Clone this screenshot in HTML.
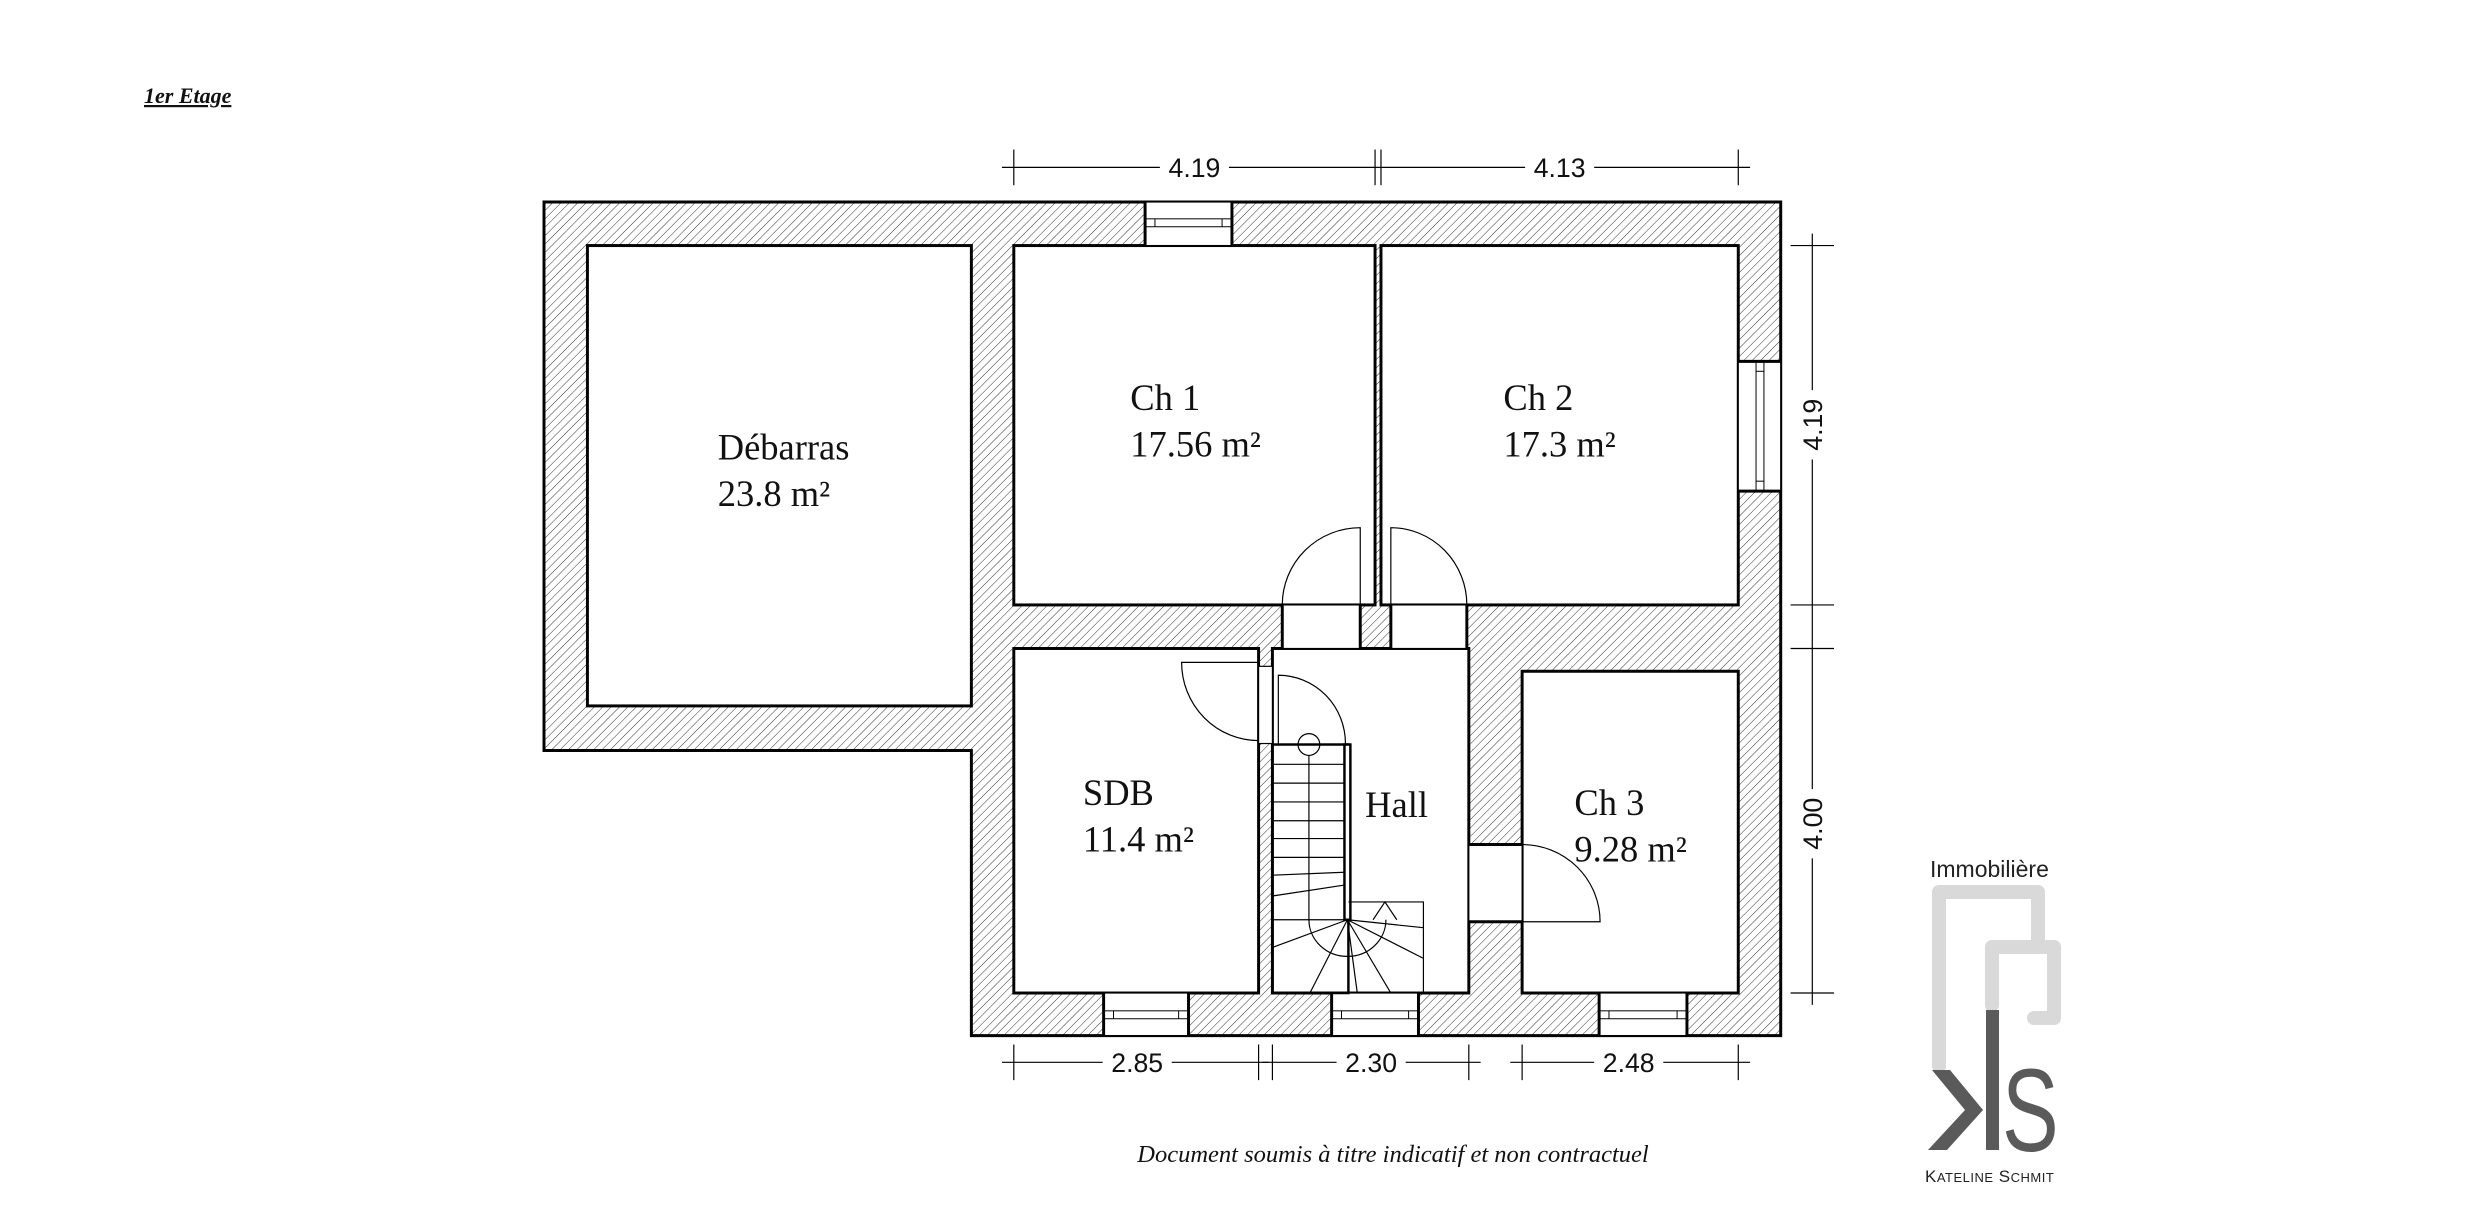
<!DOCTYPE html>
<html><head><meta charset="utf-8"><style>
html,body{margin:0;padding:0;background:#fff;}
svg{display:block;}
.rl{font-family:"Liberation Serif",serif;font-size:37px;fill:#111;}
.dm{font-family:"Liberation Sans",sans-serif;font-size:27px;fill:#111;}
</style></head><body>
<svg width="2479" height="1230" viewBox="0 0 2479 1230" xmlns="http://www.w3.org/2000/svg">
<defs>
<pattern id="h" width="6" height="6" patternUnits="userSpaceOnUse" patternTransform="rotate(45)">
<line x1="0" y1="0" x2="0" y2="6" stroke="#333" stroke-width="1"/>
</pattern>
</defs>
<rect width="2479" height="1230" fill="#fff"/>

<text x="144" y="103" font-family="Liberation Serif,serif" font-size="22" font-weight="bold" font-style="italic" text-decoration="underline" fill="#111">1er Etage</text>

<g transform="translate(544,202) scale(0.987,0.99) translate(-544,-202)">
<polygon points="544,202 1797,202 1797,1044 977,1044 977,756 544,756" fill="url(#h)" stroke="#000" stroke-width="3"/>

<g fill="#fff" stroke="#000" stroke-width="3">
<rect x="588" y="246" width="389" height="465"/>
<rect x="1020" y="246" width="366" height="363"/>
<rect x="1392" y="246" width="362" height="363"/>
<rect x="1020" y="653" width="248" height="348"/>
<rect x="1282" y="653" width="199" height="348"/>
<rect x="1535" y="676" width="219" height="325"/>
</g>

<g fill="#fff" stroke="#000" stroke-width="1.2">
<rect x="1292" y="609" width="79" height="44"/>
<rect x="1402" y="609" width="77" height="44"/>
<rect x="1481" y="851" width="54" height="78"/>
<rect x="1268" y="671" width="14" height="78"/>
<rect x="1153" y="202" width="88" height="44"/>
<rect x="1754" y="363" width="43" height="131"/>
<rect x="1111" y="1001" width="86" height="43"/>
<rect x="1342" y="1001" width="88" height="43"/>
<rect x="1613" y="1001" width="89" height="43"/>
</g>
<g fill="none" stroke="#000" stroke-width="1">
<rect x="1153" y="219" width="88" height="8"/><line x1="1163" y1="219" x2="1163" y2="227"/><line x1="1231" y1="219" x2="1231" y2="227"/>
<rect x="1772" y="363" width="8" height="131"/><line x1="1772" y1="373" x2="1780" y2="373"/><line x1="1772" y1="484" x2="1780" y2="484"/>
<rect x="1111" y="1019" width="86" height="8"/><line x1="1121" y1="1019" x2="1121" y2="1027"/><line x1="1187" y1="1019" x2="1187" y2="1027"/>
<rect x="1342" y="1019" width="88" height="8"/><line x1="1352" y1="1019" x2="1352" y2="1027"/><line x1="1420" y1="1019" x2="1420" y2="1027"/>
<rect x="1613" y="1019" width="89" height="8"/><line x1="1623" y1="1019" x2="1623" y2="1027"/><line x1="1692" y1="1019" x2="1692" y2="1027"/>
</g>
<g stroke="#000" stroke-width="3">
<line x1="1292" y1="609" x2="1292" y2="653"/><line x1="1371" y1="609" x2="1371" y2="653"/>
<line x1="1402" y1="609" x2="1402" y2="653"/><line x1="1479" y1="609" x2="1479" y2="653"/>
<line x1="1481" y1="851" x2="1535" y2="851"/><line x1="1481" y1="929" x2="1535" y2="929"/>
<line x1="1153" y1="202" x2="1153" y2="246"/><line x1="1241" y1="202" x2="1241" y2="246"/>
<line x1="1754" y1="363" x2="1797" y2="363"/><line x1="1754" y1="494" x2="1797" y2="494"/>
<line x1="1111" y1="1001" x2="1111" y2="1044"/><line x1="1197" y1="1001" x2="1197" y2="1044"/>
<line x1="1342" y1="1001" x2="1342" y2="1044"/><line x1="1430" y1="1001" x2="1430" y2="1044"/>
<line x1="1613" y1="1001" x2="1613" y2="1044"/><line x1="1702" y1="1001" x2="1702" y2="1044"/>
</g>

<g fill="none" stroke="#000" stroke-width="1.2">
<path d="M1371,609 L1371,531 A79,78 0 0 0 1292,609"/>
<path d="M1402,609 L1402,531 A77,78 0 0 1 1479,609"/>
<path d="M1535,929 L1614,929 A79,78 0 0 0 1535,851"/>
<path d="M1268,667 L1190,667 A78,79 0 0 0 1268,746"/>
<path d="M1288,749 L1288,680 A68,69 0 0 1 1356,749"/>
</g>

<g fill="none" stroke="#000" stroke-width="1.2">
<rect x="1282" y="750" width="77" height="251" stroke-width="2.5"/>
<rect x="1355" y="750" width="6" height="177" stroke-width="2.5" fill="#fff"/>
<line x1="1282" y1="770" x2="1355" y2="770"/>
<line x1="1282" y1="789" x2="1355" y2="789"/>
<line x1="1282" y1="808" x2="1355" y2="808"/>
<line x1="1282" y1="827" x2="1355" y2="827"/>
<line x1="1282" y1="845" x2="1355" y2="845"/>
<line x1="1282" y1="864" x2="1355" y2="864"/>
<line x1="1282" y1="882" x2="1355" y2="879"/>
<line x1="1282" y1="903" x2="1355" y2="892"/>
<line x1="1358" y1="927" x2="1282" y2="927"/>
<line x1="1358" y1="927" x2="1282" y2="955"/>
<line x1="1358" y1="927" x2="1320" y2="1001"/>
<line x1="1358" y1="927" x2="1368" y2="1001"/>
<line x1="1358" y1="927" x2="1402" y2="1001"/>
<line x1="1358" y1="927" x2="1435" y2="966"/>
<line x1="1358" y1="927" x2="1435" y2="935"/>
<polyline points="1359,909 1435,909 1435,1001"/>
<line x1="1319" y1="761" x2="1319" y2="927"/>
<path d="M1319,927 A39,37 0 0 0 1397,927"/>
<path d="M1384,927 L1396,909 L1408,927"/>
<circle cx="1319" cy="750" r="11"/>
</g>

<text class="rl" x="720" y="462">Débarras</text>
<text class="rl" x="720" y="509">23.8 m²</text>
<text class="rl" x="1138" y="412">Ch 1</text>
<text class="rl" x="1138" y="459">17.56 m²</text>
<text class="rl" x="1516" y="412">Ch 2</text>
<text class="rl" x="1516" y="459">17.3 m²</text>
<text class="rl" x="1090" y="811">SDB</text>
<text class="rl" x="1090" y="858">11.4 m²</text>
<text class="rl" x="1376" y="823">Hall</text>
<text class="rl" x="1588" y="821">Ch 3</text>
<text class="rl" x="1588" y="868">9.28 m²</text>

<g stroke="#000" stroke-width="1.2" fill="none">
<line x1="1008" y1="167" x2="1766" y2="167"/>
<line x1="1020" y1="149" x2="1020" y2="185"/><line x1="1386" y1="149" x2="1386" y2="185"/><line x1="1392" y1="149" x2="1392" y2="185"/><line x1="1754" y1="149" x2="1754" y2="185"/>
<line x1="1829" y1="234" x2="1829" y2="1013"/>
<line x1="1807" y1="246" x2="1851" y2="246"/><line x1="1807" y1="609" x2="1851" y2="609"/><line x1="1807" y1="653" x2="1851" y2="653"/><line x1="1807" y1="1001" x2="1851" y2="1001"/>
<line x1="1008" y1="1071" x2="1278" y2="1071"/><line x1="1272" y1="1071" x2="1493" y2="1071"/><line x1="1523" y1="1071" x2="1766" y2="1071"/>
<line x1="1020" y1="1053" x2="1020" y2="1089"/><line x1="1268" y1="1053" x2="1268" y2="1089"/><line x1="1282" y1="1053" x2="1282" y2="1089"/><line x1="1481" y1="1053" x2="1481" y2="1089"/><line x1="1535" y1="1053" x2="1535" y2="1089"/><line x1="1754" y1="1053" x2="1754" y2="1089"/>
</g>
<g fill="#fff">
<rect x="1168" y="150" width="70" height="34"/><rect x="1538" y="150" width="70" height="34"/>
<rect x="1812" y="392" width="34" height="70"/><rect x="1812" y="795" width="34" height="70"/>
<rect x="1110" y="1054" width="70" height="34"/><rect x="1347" y="1054" width="70" height="34"/><rect x="1608" y="1054" width="70" height="34"/>
</g>
<g class="dm" text-anchor="middle">
<text class="dm" x="1203" y="177">4.19</text>
<text class="dm" x="1573" y="177">4.13</text>
<text class="dm" x="1145" y="1081">2.85</text>
<text class="dm" x="1382" y="1081">2.30</text>
<text class="dm" x="1643" y="1081">2.48</text>
<text class="dm" transform="translate(1839,427) rotate(-90)">4.19</text>
<text class="dm" transform="translate(1839,830) rotate(-90)">4.00</text>
</g>
</g>

<text x="1393" y="1162" text-anchor="middle" font-family="Liberation Serif,serif" font-size="24.5" font-style="italic" fill="#111">Document soumis à titre indicatif et non contractuel</text>

<text x="1930" y="877" font-family="Liberation Sans,sans-serif" font-size="23" fill="#222">Immobilière</text>
<g fill="none" stroke="#d9d9d9" stroke-width="14" stroke-linejoin="round" stroke-linecap="round">
<polyline points="1939,1066 1939,892 2038,892 2038,942"/>
<polyline points="1992,1005 1992,947 2054,947 2054,1018 2034,1018"/>
</g>
<rect x="1986" y="1010" width="13" height="140" fill="#5a5a5a"/>
<polygon points="1932,1070 1950,1070 1983,1110 1947,1150 1928,1150 1965,1110" fill="#5a5a5a"/>
<text x="0" y="0" font-family="Liberation Sans,sans-serif" font-size="118" fill="#5a5a5a" transform="translate(2002,1151) scale(0.72,1)">S</text>
<text x="1925" y="1182" font-family="Liberation Sans,sans-serif" font-size="17" fill="#222" letter-spacing="0.5">K<tspan font-size="13">ATELINE</tspan> S<tspan font-size="13">CHMIT</tspan></text>
</svg>
</body></html>
